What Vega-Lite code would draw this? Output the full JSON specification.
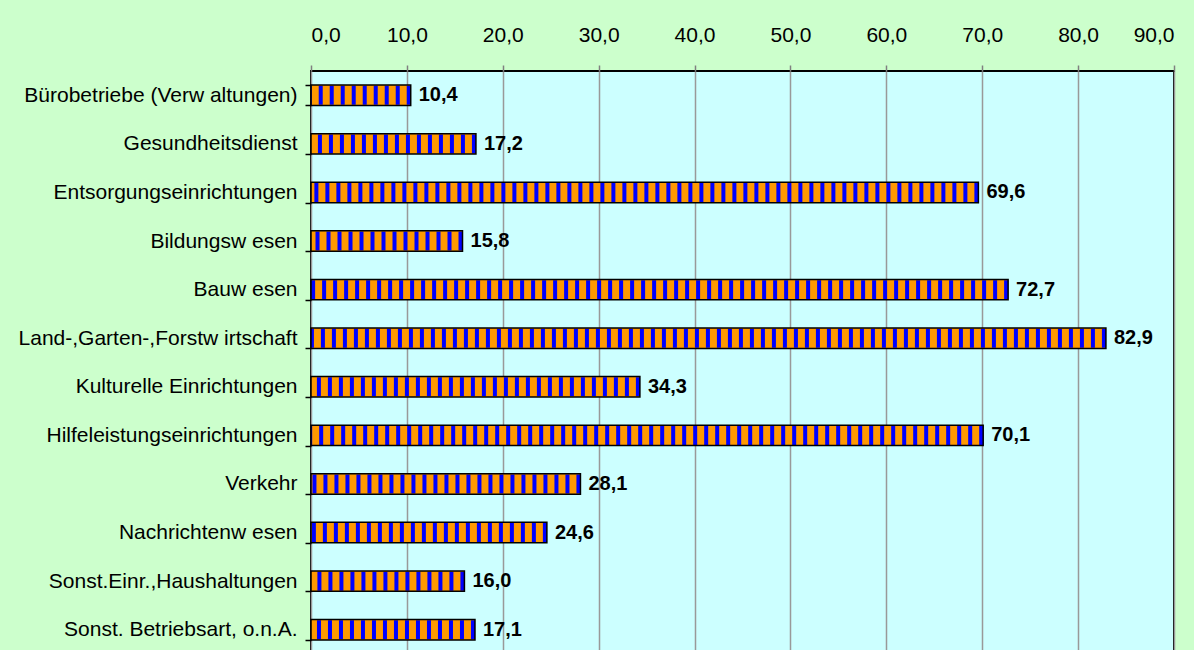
{
  "$schema": "https://vega.github.io/schema/vega-lite/v6.json",
  "autosize": {"type": "none"},
  "padding": {"left": 311, "top": 71, "right": 20, "bottom": 0},
  "width": 863,
  "height": 583,
  "background": "#ccffcc",
  "config": {
    "font": "Liberation Sans",
    "locale": {"number": {"decimal": ",", "thousands": ".", "grouping": [3], "currency": ["", " €"]}},
    "view": {"fill": "#ccffff", "stroke": "#000000", "strokeWidth": 2}
  },
  "data": {
    "values": [
      {"cat": "Bürobetriebe (Verw altungen)", "v": 10.4},
      {"cat": "Gesundheitsdienst", "v": 17.2},
      {"cat": "Entsorgungseinrichtungen", "v": 69.6},
      {"cat": "Bildungsw esen", "v": 15.8},
      {"cat": "Bauw esen", "v": 72.7},
      {"cat": "Land-,Garten-,Forstw irtschaft", "v": 82.9},
      {"cat": "Kulturelle Einrichtungen", "v": 34.3},
      {"cat": "Hilfeleistungseinrichtungen", "v": 70.1},
      {"cat": "Verkehr", "v": 28.1},
      {"cat": "Nachrichtenw esen", "v": 24.6},
      {"cat": "Sonst.Einr.,Haushaltungen", "v": 16.0},
      {"cat": "Sonst. Betriebsart, o.n.A.", "v": 17.1}
    ]
  },
  "encoding": {
    "y": {
      "field": "cat", "type": "nominal", "sort": null,
      "scale": {"paddingInner": 0.58, "paddingOuter": 0.29},
      "axis": {
        "title": null, "labelFontSize": 21, "labelColor": "#000000",
        "tickBand": "extent", "tickColor": "#000000", "tickSize": 6, "tickWidth": 1.5,
        "labelPadding": 8, "domain": false, "grid": false, "labelLimit": 400
      }
    }
  },
  "layer": [
    {
      "mark": {"type": "bar", "fill": "#ff9900", "strokeWidth": 0},
      "encoding": {
        "x": {
          "field": "v", "type": "quantitative",
          "scale": {"domain": [0, 90], "nice": false},
          "axis": {
            "orient": "top", "title": null, "values": [0, 10, 20, 30, 40, 50, 60, 70, 80, 90],
            "format": ".1f", "labelFontSize": 21, "labelColor": "#000000", "labelBaseline": "alphabetic",
            "tickColor": "#808080", "tickSize": 6, "tickWidth": 1.5, "labelPadding": 24,
            "grid": true, "gridColor": "#999999", "gridWidth": 1.5, "domain": false
          }
        }
      }
    },
    {
      "mark": {"type": "rule", "color": "#0000ff", "strokeWidth": 19, "strokeDash": [4, 7], "strokeCap": "butt"},
      "encoding": {
        "x": {"field": "v", "type": "quantitative"},
        "x2": {"datum": 0}
      }
    },
    {
      "mark": {"type": "bar", "filled": false, "stroke": "#000000", "strokeWidth": 1.5},
      "encoding": {"x": {"field": "v", "type": "quantitative"}}
    },
    {
      "mark": {"type": "text", "align": "left", "baseline": "middle", "dx": 8, "fontSize": 20, "fontWeight": "bold", "color": "#000000"},
      "encoding": {
        "x": {"field": "v", "type": "quantitative"},
        "text": {"field": "v", "type": "quantitative", "format": ".1f"}
      }
    }
  ]
}
